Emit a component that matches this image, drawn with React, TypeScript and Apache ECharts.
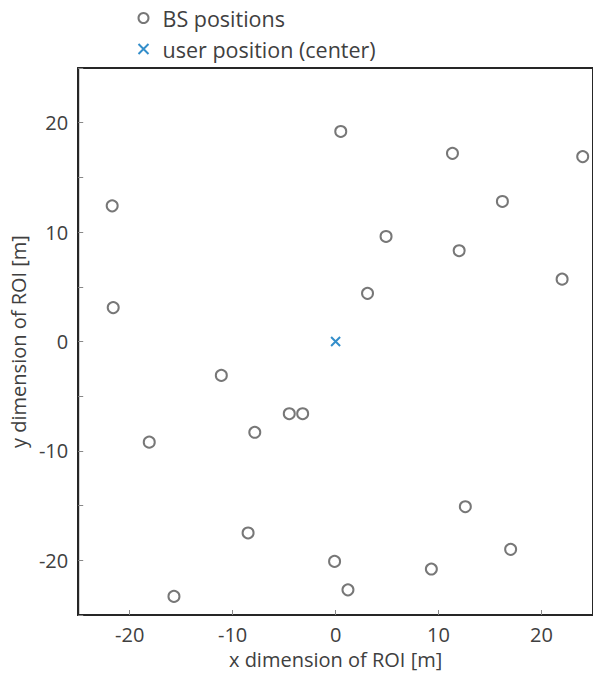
import React, { useEffect, useRef } from "react";
import * as echarts from "echarts";

const bsX = [-21.7, -21.6, 0.5, 11.35, 24.0, 16.2, 4.9, 12.0, 22.0, 3.1, -11.1, -18.1, -7.85, -4.5, -3.2, -8.5, -15.7, -0.1, 12.6, 17.0, 9.3, 1.2];
const bsY = [12.4, 3.1, 19.2, 17.2, 16.9, 12.8, 9.6, 8.3, 5.7, 4.4, -3.1, -9.2, -8.3, -6.6, -6.6, -17.5, -23.3, -20.1, -15.1, -19.0, -20.8, -22.7];
const userPos = [0, 0];
const xTicks = [-20, -10, 0, 10, 20];
const yTicks = [-25, -20, -15, -10, -5, 0, 5, 10, 15, 20, 25];
const yLabels = [-20, -10, 0, 10, 20];
const seriesNames = ["BS positions", "user position (center)"];

const CROSS = "path://M0,0L10,10M10,0L0,10";
const FONT = "Open Sans";
const TEXT = "#404040";
const AXIS_FS = 20;

export default function App() {
  const ref = useRef<HTMLDivElement>(null);
  useEffect(() => {
    if (!ref.current) return;
    const chart = echarts.init(ref.current, null, { renderer: "svg" });
    chart.setOption({
      animation: false,
      textStyle: { fontFamily: FONT },
      legend: {
        orient: "vertical",
        left: 131,
        top: 1,
        itemWidth: 10,
        itemHeight: 10,
        itemGap: 7,
        textStyle: { fontFamily: FONT, fontSize: 21.5, lineHeight: 24, color: TEXT, padding: [0, 0, 0, 9] },
        data: [
          { name: seriesNames[0], icon: "emptyCircle", itemStyle: { color: "#555", borderColor: "#555", borderWidth: 1.2 } },
          { name: seriesNames[1], icon: CROSS, itemStyle: { color: "none", borderColor: "#0072BD", borderWidth: 2 } },
        ],
      },
      grid: {
        left: 75,
        top: 68,
        width: 520,
        height: 547,
        show: true,
        borderColor: "#262626",
        borderWidth: 2,
        backgroundColor: "#fff",
      },
      xAxis: {
        type: "value",
        min: -25,
        max: 25,
        name: "x dimension of ROI [m]",
        nameLocation: "middle",
        nameGap: 34,
        nameTextStyle: { fontFamily: FONT, fontSize: AXIS_FS, color: TEXT },
        axisLine: { show: true, onZero: false, lineStyle: { color: "#262626", width: 2 } },
        axisTick: { show: true, inside: true, length: 5, customValues: xTicks, lineStyle: { color: "#888", width: 1 } },
        axisLabel: { customValues: xTicks, fontFamily: FONT, fontSize: AXIS_FS, color: TEXT, margin: 9 },
        splitLine: { show: false },
      },
      yAxis: {
        type: "value",
        min: -25,
        max: 25,
        name: "y dimension of ROI [m]",
        nameLocation: "middle",
        nameGap: 47,
        nameTextStyle: { fontFamily: FONT, fontSize: AXIS_FS, color: TEXT },
        axisLine: { show: true, onZero: false, lineStyle: { color: "#262626", width: 2 } },
        axisTick: { show: true, inside: true, length: 5, customValues: yTicks, lineStyle: { color: "#888", width: 1 } },
        axisLabel: { customValues: yLabels, fontFamily: FONT, fontSize: AXIS_FS, color: TEXT, margin: 10 },
        splitLine: { show: false },
      },
      series: [
        {
          name: seriesNames[0],
          type: "scatter",
          symbol: "emptyCircle",
          symbolSize: 11,
          itemStyle: { color: "#555", borderColor: "#555", borderWidth: 1.4 },
          data: bsX.map((x, i) => [x, bsY[i]]),
        },
        {
          name: seriesNames[1],
          type: "scatter",
          symbol: CROSS,
          symbolSize: 9,
          itemStyle: { color: "none", borderColor: "#0072BD", borderWidth: 2 },
          data: [userPos],
        },
      ],
    });
    return () => chart.dispose();
  }, []);
  return <div ref={ref} style={{ position: "absolute", left: 0, top: 0, width: 593, height: 680 }} />;
}
